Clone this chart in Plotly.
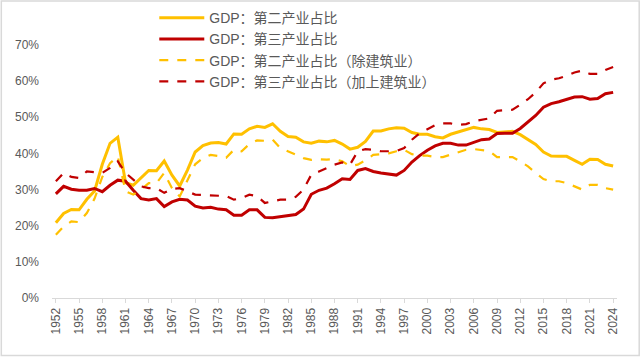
import plotly.graph_objects as go

years = list(range(1952, 2025))

sec = [20.8, 23.4, 24.5, 24.4, 27.3, 29.6, 37.0, 42.8, 44.5, 31.9,
       31.2, 33.3, 35.3, 35.2, 37.9, 34.0, 31.0, 35.4, 40.4, 42.2,
       42.9, 43.0, 42.6, 45.4, 45.3, 46.8, 47.5, 47.2, 48.2, 46.1,
       44.7, 44.5, 43.2, 42.8, 43.4, 43.2, 43.6, 42.6, 41.2, 41.7,
       43.3, 46.2, 46.2, 46.8, 47.1, 47.0, 45.8, 45.3, 45.3, 44.6,
       44.3, 45.3, 45.9, 46.7, 47.2, 46.8, 46.6, 45.8, 46.0, 46.1,
       45.2, 43.9, 42.5, 40.4, 39.3, 39.2, 39.2, 38.1, 37.0, 38.4,
       38.3, 37.0, 36.5]

ter = [28.8, 30.9, 30.1, 29.8, 29.8, 30.3, 29.4, 31.2, 32.6, 32.3,
       29.8, 27.5, 27.1, 27.5, 25.3, 26.6, 27.3, 27.1, 25.4, 24.9,
       25.1, 24.6, 24.4, 22.9, 22.9, 24.4, 24.4, 22.3, 22.2, 22.5,
       22.7, 23.1, 24.6, 28.7, 29.8, 30.4, 31.6, 33.0, 32.8, 35.3,
       35.8, 35.0, 34.6, 34.2, 34.0, 35.3, 37.6, 39.4, 40.9, 42.1,
       42.8, 42.8, 42.3, 42.3, 43.0, 43.8, 44.0, 45.5, 45.6, 45.6,
       46.9, 48.6, 50.5, 52.8, 53.8, 54.3, 54.9, 55.6, 55.7, 55.0,
       55.2, 56.5, 56.9]

sec_ex = [17.5, 19.8, 21.2, 21.0, 23.5, 27.5, 33.5, 37.3, 39.2, 29.5,
          28.6, 30.0, 31.8, 31.8, 34.6, 30.4, 28.1, 32.7, 37.0, 38.7,
          39.6, 39.3, 38.8, 41.0, 40.6, 42.6, 43.6, 43.5, 43.8, 41.5,
          40.6, 39.7, 38.7, 38.2, 38.4, 38.3, 38.4, 37.8, 36.5, 36.9,
          38.1, 39.6, 39.8, 40.0, 40.6, 41.0, 39.8, 39.4, 39.4, 39.0,
          39.0, 39.6, 40.3, 41.0, 41.2, 40.9, 40.7, 39.0, 39.1, 39.0,
          37.8, 36.4, 34.6, 32.9, 32.3, 32.3, 31.8, 30.9, 30.0, 31.3,
          31.3, 30.4, 30.0]

ter_plus = [32.3, 34.6, 33.5, 33.2, 35.0, 34.8, 34.6, 36.0, 37.8, 34.6,
            32.7, 30.9, 30.4, 30.4, 29.1, 30.2, 30.4, 29.5, 28.6, 28.5,
            28.4, 28.2, 28.2, 27.2, 27.6, 28.6, 28.2, 26.3, 26.8, 27.2,
            27.2, 28.0, 30.0, 34.1, 35.0, 36.0, 36.9, 37.5, 36.9, 40.6,
            41.2, 41.0, 40.6, 40.6, 40.7, 41.5, 43.8, 45.6, 46.8, 47.8,
            48.3, 48.3, 47.9, 48.1, 48.9, 49.3, 49.7, 51.8, 52.0, 52.1,
            53.5, 55.0, 56.9, 59.4, 60.4, 60.8, 61.5, 62.4, 62.9, 62.0,
            62.0, 63.1, 63.9]

names = ["GDP：第二产业占比", "GDP：第三产业占比",
         "GDP：第二产业占比（除建筑业）", "GDP：第三产业占比（加上建筑业）"]

YELLOW = "#FFC000"
RED = "#C00000"
FONT = "Liberation Sans, Arial, Noto Sans CJK SC, sans-serif"

fig = go.Figure()
fig.add_trace(go.Scatter(x=years, y=sec, name=names[0], mode="lines",
                         line=dict(color=YELLOW, width=3)))
fig.add_trace(go.Scatter(x=years, y=ter, name=names[1], mode="lines",
                         line=dict(color=RED, width=3)))
fig.add_trace(go.Scatter(x=years, y=sec_ex, name=names[2], mode="lines",
                         line=dict(color=YELLOW, width=2.2, dash="dash")))
fig.add_trace(go.Scatter(x=years, y=ter_plus, name=names[3], mode="lines",
                         line=dict(color=RED, width=2.2, dash="dash")))

L, R, T, B = 51.7, 23.2, 45, 58.5
W, H = 640, 357
pw, ph = W - L - R, H - T - B

fig.update_layout(
    width=W, height=H,
    margin=dict(l=L, r=R, t=T, b=B, autoexpand=False),
    paper_bgcolor="white", plot_bgcolor="white",
    font=dict(family=FONT, color="#595959", size=12),
    showlegend=True,
    legend=dict(x=(154 - L) / pw, y=(H - B - 2) / ph, xanchor="left", yanchor="top",
                bgcolor="rgba(0,0,0,0)", font=dict(size=14, color="#595959"),
                itemwidth=45, tracegroupgap=0),
    xaxis=dict(range=[1951.5, 2024.5], tickmode="linear", tick0=1952, dtick=3,
               tickangle=-90, showgrid=False, zeroline=False,
               showline=True, linecolor="#D9D9D9", linewidth=1,
               ticks="outside", ticklen=4, tickcolor="#D9D9D9",
               tickfont=dict(size=12, color="#595959")),
    yaxis=dict(range=[0, 70], dtick=10, ticksuffix="%", showgrid=False,
               zeroline=False, showline=False, ticklabelstandoff=12,
               tickfont=dict(size=12, color="#595959")),
    shapes=[dict(type="rect", xref="paper", yref="paper",
                 x0=-(L - 1) / pw, x1=(W - L - 1) / pw,
                 y0=-(B - 1) / ph, y1=(H - B - 1) / ph,
                 line=dict(color="#D9D9D9", width=1.5), layer="below")],
)

fig.write_html("out.html", config={"displayModeBar": False},
               post_script="document.body.style.margin='0';document.body.style.overflow='hidden';")
